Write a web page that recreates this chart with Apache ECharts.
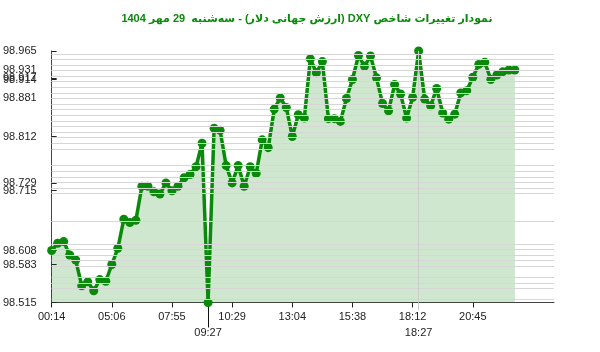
<!DOCTYPE html>
<html>
<head>
<meta charset="utf-8">
<script src="https://cdn.jsdelivr.net/npm/echarts@6/dist/echarts.min.js"></script>
<style>
html,body{margin:0;padding:0;background:#fff;}
#chart{width:600px;height:352px;}
</style>
</head>
<body>
<div id="chart"></div>
<script>
const titleText = 'نمودار تغییرات شاخص DXY (ارزش جهانی دلار) - سه‌شنبه  29 مهر 1404';

const values = [
  98.608, 98.621, 98.624, 98.600, 98.591, 98.545, 98.552, 98.536, 98.556, 98.553,
  98.583, 98.612, 98.664, 98.658, 98.662, 98.723, 98.723, 98.713, 98.709, 98.729,
  98.715, 98.723, 98.738, 98.744, 98.758, 98.800, 98.515, 98.827, 98.823, 98.760,
  98.729, 98.760, 98.723, 98.758, 98.746, 98.806, 98.792, 98.861, 98.881, 98.864,
  98.812, 98.851, 98.845, 98.951, 98.926, 98.946, 98.844, 98.844, 98.839, 98.880,
  98.914, 98.957, 98.938, 98.956, 98.917, 98.871, 98.858, 98.905, 98.888, 98.845,
  98.882, 98.965, 98.879, 98.867, 98.898, 98.854, 98.843, 98.852, 98.890, 98.894,
  98.918, 98.941, 98.945, 98.914, 98.922, 98.928, 98.931, 98.931
];

const xTickIndex = [0, 10, 20, 30, 40, 50, 60, 70];
const xTickLabels = ['00:14', '05:06', '07:55', '10:29', '13:04', '15:38', '18:12', '20:45'];
const markIndex = [26, 61];
const markLabels = ['09:27', '18:27'];
const yTickValues = [98.515, 98.583, 98.608, 98.715, 98.729, 98.812, 98.881, 98.917, 98.914, 98.931, 98.965];

const xMin = 0, xMax = 83.5;
const yMin = 98.515, yMax = 98.965;

const points = values.map((v, i) => [i, v]);
const labelFont = {fontFamily: 'Liberation Sans, Arial, sans-serif', fontSize: 11, color: '#222'};

const chart = echarts.init(document.getElementById('chart'), null, {renderer: 'canvas'});
chart.setOption({
  animation: false,
  title: {
    text: '\u202B' + titleText + '\u202C',
    left: 302, top: 8, textAlign: 'center',
    textStyle: {fontFamily: 'Liberation Sans, DejaVu Sans, sans-serif', fontSize: 11, fontWeight: 'bold', color: '#0a8a0a'}
  },
  grid: {left: 51, right: 46, top: 51, bottom: 49.5, containLabel: false},
  xAxis: [
    {
      type: 'value', min: xMin, max: xMax,
      axisLine: {show: true, lineStyle: {color: '#444', width: 1}},
      axisTick: {show: true, length: 5, customValues: xTickIndex, lineStyle: {color: '#222'}},
      splitLine: {show: false},
      axisLabel: Object.assign({
        customValues: xTickIndex, margin: 9,
        formatter: v => xTickLabels[xTickIndex.indexOf(Math.round(v))] || ''
      }, labelFont)
    },
    {
      type: 'value', min: xMin, max: xMax, position: 'bottom',
      axisLine: {show: false},
      axisTick: {show: true, length: 25, customValues: [markIndex[0]], lineStyle: {color: '#111'}},
      splitLine: {show: false},
      axisLabel: Object.assign({
        customValues: markIndex, margin: 25,
        formatter: v => markLabels[markIndex.indexOf(Math.round(v))] || ''
      }, labelFont)
    },
    {
      type: 'value', min: xMin, max: xMax, position: 'bottom',
      axisLine: {show: false},
      axisTick: {show: true, length: 8, customValues: [markIndex[1]], lineStyle: {color: '#ccc'}},
      splitLine: {show: false},
      axisLabel: {show: false}
    }
  ],
  yAxis: {
    type: 'value', min: yMin, max: yMax,
    axisLine: {show: true, lineStyle: {color: '#444', width: 1}},
    axisTick: {show: true, inside: true, length: 5, customValues: yTickValues, lineStyle: {color: '#222'}},
    splitLine: {show: false},
    axisLabel: Object.assign({
      customValues: yTickValues, margin: 15,
      formatter: v => v.toFixed(3)
    }, labelFont)
  },
  series: [
    {
      type: 'line', data: [], z: 1, silent: true,
      markLine: {
        silent: true, symbol: ['none', 'none'], label: {show: false},
        lineStyle: {color: '#d6d6d6', width: 1, type: 'solid', opacity: 1},
        animation: false,
        data: values.map(v => ({yAxis: v}))
      }
    },
    {
      type: 'line', data: points, z: 3,
      symbol: 'circle', symbolSize: 9, showSymbol: true, showAllSymbol: true,
      lineStyle: {color: '#0a8a0a', width: 3.5},
      itemStyle: {color: '#0a8a0a', borderWidth: 0},
      areaStyle: {color: 'rgba(0,128,0,0.19)', opacity: 1},
      markLine: {
        silent: true, symbol: ['none', 'none'], label: {show: false},
        lineStyle: {color: '#cccccc', width: 1, type: 'solid', opacity: 1},
        animation: false,
        data: [{xAxis: markIndex[1]}]
      }
    }
  ]
});
</script>
</body>
</html>
